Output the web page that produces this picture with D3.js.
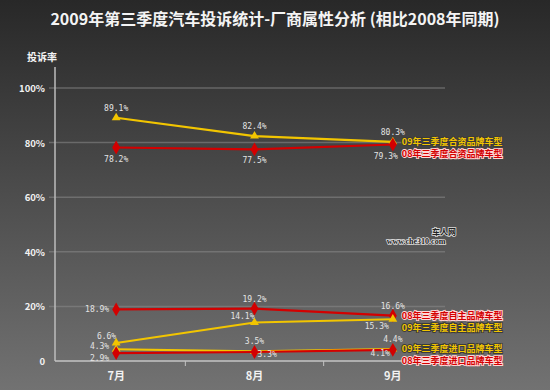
<!DOCTYPE html>
<html>
<head>
<meta charset="utf-8">
<script src="https://cdn.jsdelivr.net/npm/d3@7"></script>
<style>
  body { margin: 0; background: #2a2a2a; }
  svg { display: block; }
  .val-label { font-family: "DejaVu Sans Mono", monospace; font-size: 8px; fill: #e4e4e4; }
  .tick-label { font-family: "Noto Sans CJK SC", sans-serif; font-weight: bold; fill: #f2f2f2; }
</style>
</head>
<body>
<svg id="chart" width="550" height="390"></svg>
<script>
// data
const months = ["7月", "8月", "9月"];
const yTicks = [0, 0.2, 0.4, 0.6, 0.8, 1.0];
const yTickLabels = ["0", "20%", "40%", "60%", "80%", "100%"];

const seriesNames = [
  "09年三季度合资品牌车型",
  "08年三季度合资品牌车型",
  "08年三季度自主品牌车型",
  "09年三季度自主品牌车型",
  "09年三季度进口品牌车型",
  "08年三季度进口品牌车型"
];
const jv09 = [89.1, 82.4, 80.3];
const jv08 = [78.2, 77.5, 79.3];
const own08 = [18.9, 19.2, 16.6];
const own09 = [6.6, 14.1, 15.3];
const imp09 = [4.3, 3.5, 4.4];
const imp08 = [2.9, 3.3, 4.1];
const seriesValues = [jv09, jv08, own08, own09, imp09, imp08];
const seriesYear = ["09", "08", "08", "09", "09", "08"];

// where each value label sits relative to its point
const labelPlace = [
  ["above", "above", "above"],
  ["below", "below", "belowL"],
  ["left", "above", "above"],
  ["aboveLeft", "aboveLeft", "belowLeft2"],
  ["leftUp", "above", "above"],
  ["leftDown", "right", "belowLeft"]
];

const W = 550, H = 390;
const colors = { "09": "#f2c500", "08": "#d30000" };
const svg = d3.select("#chart");

// background gradient
const defs = svg.append("defs");
const grad = defs.append("linearGradient").attr("id", "bg")
  .attr("x1", 0).attr("y1", 0).attr("x2", 0).attr("y2", 1);
grad.append("stop").attr("offset", "0%").attr("stop-color", "#282828");
grad.append("stop").attr("offset", "100%").attr("stop-color", "#727272");
svg.append("rect").attr("width", W).attr("height", H).attr("fill", "url(#bg)");

const x = d3.scaleBand().domain(months).range([47, 462]);
const y = d3.scaleLinear().domain([0, 1]).range([361, 88]);
const cx = m => x(m) + x.bandwidth() / 2;

// title
svg.append("text")
  .attr("x", W / 2).attr("y", 25)
  .attr("text-anchor", "middle")
  .attr("font-family", "'Noto Sans CJK SC', sans-serif")
  .attr("font-weight", "bold")
  .attr("font-size", 16)
  .attr("fill", "#f4f4f4")
  .text("2009年第三季度汽车投诉统计-厂商属性分析 (相比2008年同期)");

svg.append("text")
  .attr("x", 27).attr("y", 61)
  .attr("font-family", "'Noto Sans CJK SC', sans-serif")
  .attr("font-weight", "bold")
  .attr("font-size", 10)
  .attr("fill", "#f4f4f4")
  .text("投诉率");

// grid lines
svg.append("g")
  .selectAll("line")
  .data(yTicks.slice(1))
  .join("line")
    .attr("x1", 49).attr("x2", 445)
    .attr("y1", d => y(d)).attr("y2", d => y(d))
    .attr("stroke", "#8a8a8a")
    .attr("stroke-opacity", 0.55)
    .attr("stroke-width", 1.5);

// y axis
svg.append("line")
  .attr("x1", 55).attr("x2", 55)
  .attr("y1", 67).attr("y2", y(0))
  .attr("stroke", "#bdbdbd").attr("stroke-width", 1.5);
svg.append("g")
  .selectAll("text")
  .data(yTicks)
  .join("text")
    .attr("class", "tick-label")
    .attr("x", 45)
    .attr("y", d => y(d) + 4)
    .attr("text-anchor", "end")
    .attr("font-size", 9.5)
    .text((d, i) => yTickLabels[i]);

// x axis
svg.append("line")
  .attr("x1", 55).attr("x2", 458)
  .attr("y1", y(0)).attr("y2", y(0))
  .attr("stroke", "#c4c4c4").attr("stroke-width", 1.5);
svg.append("g")
  .selectAll("line")
  .data(months.slice(1))
  .join("line")
    .attr("x1", d => x(d)).attr("x2", d => x(d))
    .attr("y1", y(0)).attr("y2", y(0) + 5)
    .attr("stroke", "#c4c4c4");
svg.append("g")
  .selectAll("text")
  .data(months)
  .join("text")
    .attr("class", "tick-label")
    .attr("x", d => cx(d))
    .attr("y", 380)
    .attr("text-anchor", "middle")
    .attr("font-size", 11)
    .text(d => d);

// watermark
svg.append("text")
  .attr("x", 444).attr("y", 235)
  .attr("text-anchor", "middle")
  .attr("font-family", "'Noto Sans CJK SC', sans-serif")
  .attr("font-weight", "bold")
  .attr("font-size", 8)
  .attr("fill", "#222").attr("stroke", "#ddd").attr("stroke-width", 1.6)
  .attr("paint-order", "stroke")
  .text("车人网");
svg.append("text")
  .attr("x", 416).attr("y", 244)
  .attr("text-anchor", "middle")
  .attr("font-family", "'Liberation Serif', serif")
  .attr("font-weight", "bold")
  .attr("font-size", 8)
  .attr("fill", "#222").attr("stroke", "#ddd").attr("stroke-width", 1.6)
  .attr("paint-order", "stroke")
  .text("www.che310.com");

// lines + markers
const line = d3.line().x((d, i) => cx(months[i])).y(d => y(d / 100));
const tri = d3.symbol().type(d3.symbolTriangle).size(34);
const dia = d3.symbol().type(d3.symbolDiamond).size(55);

const place = {
  above:      { dx: 0,  dy: -7, anchor: "middle" },
  below:      { dx: 0,  dy: 14, anchor: "middle" },
  belowL:     { dx: -7, dy: 14, anchor: "middle" },
  left:       { dx: -7, dy: 3,  anchor: "end" },
  leftUp:     { dx: -7, dy: 0,  anchor: "end" },
  leftDown:   { dx: -7, dy: 8,  anchor: "end" },
  right:      { dx: 3,  dy: 5,  anchor: "start" },
  aboveLeft:  { dx: 0,  dy: -4, anchor: "end" },
  belowLeft:  { dx: -3, dy: 6,  anchor: "end" },
  belowLeft2: { dx: -4, dy: 10, anchor: "end" }
};

seriesValues.forEach((vals, s) => {
  const col = colors[seriesYear[s]];
  const g = svg.append("g").attr("class", "series");
  g.append("path")
    .attr("d", line(vals))
    .attr("fill", "none")
    .attr("stroke", col)
    .attr("stroke-width", 2.2);
  g.selectAll("path.mk")
    .data(vals)
    .join("path")
      .attr("class", "mk")
      .attr("transform", (d, i) => `translate(${cx(months[i])},${y(d / 100)})`)
      .attr("d", seriesYear[s] === "09" ? tri : dia)
      .attr("fill", col);
  g.selectAll("text")
    .data(vals)
    .join("text")
      .attr("class", "val-label")
      .each(function(d, i) {
        const p = place[labelPlace[s][i]];
        d3.select(this)
          .attr("x", cx(months[i]) + p.dx)
          .attr("y", y(d / 100) + p.dy)
          .attr("text-anchor", p.anchor);
      })
      .text(d => d.toFixed(1) + "%");
});

// series name labels at right end, pushed apart so they don't overlap
const ends = seriesValues.map((v, s) => ({ s, y: y(v[v.length - 1] / 100) }))
  .sort((a, b) => a.y - b.y);
for (let i = 1; i < ends.length; i++) {
  if (ends[i].y - ends[i - 1].y < 12) ends[i].y = ends[i - 1].y + 12;
}
svg.append("g")
  .selectAll("text")
  .data(ends)
  .join("text")
    .attr("x", cx(months[2]) + 9)
    .attr("y", d => d.y + 3)
    .attr("font-family", "'Noto Sans CJK SC', sans-serif")
    .attr("font-weight", "bold")
    .attr("font-size", 9)
    .attr("fill", d => colors[seriesYear[d.s]])
    .attr("stroke", d => seriesYear[d.s] === "08" ? "#ffd6d6" : "#3a3a3a")
    .attr("stroke-width", 1.8)
    .attr("paint-order", "stroke")
    .text(d => seriesNames[d.s]);
</script>
</body>
</html>
